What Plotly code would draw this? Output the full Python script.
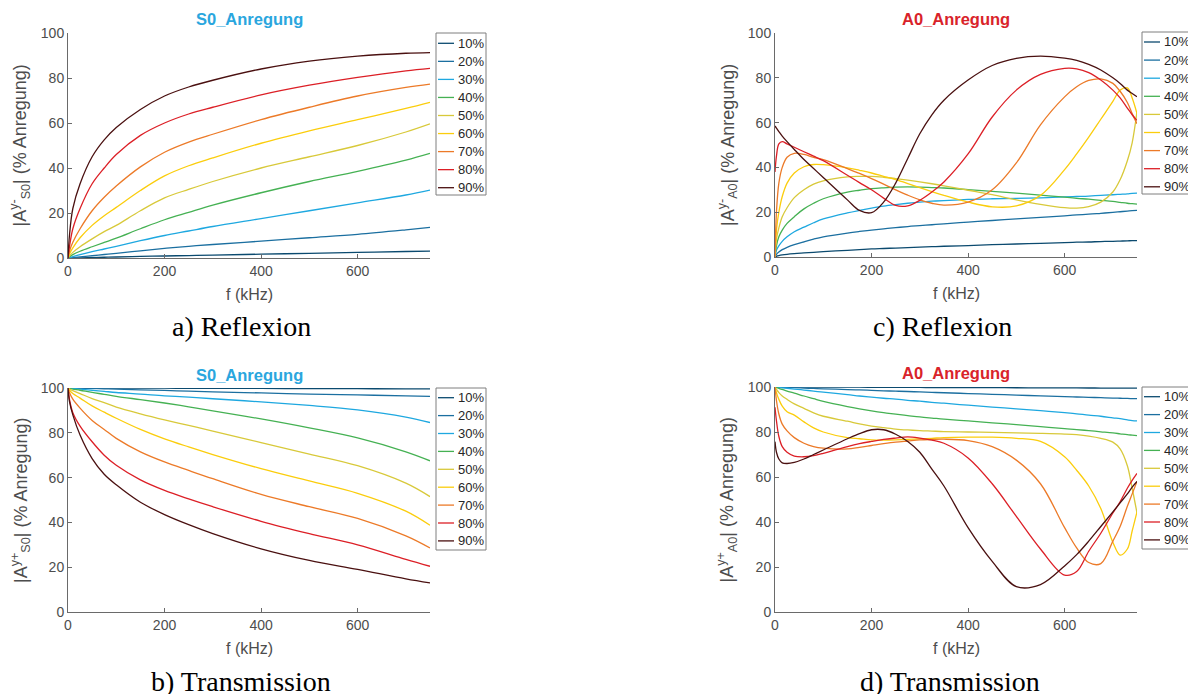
import plotly.graph_objects as go

LABELS = ["10%", "20%", "30%", "40%", "50%", "60%", "70%", "80%", "90%"]
COLORS = ["#0b4a6f", "#1b6fa0", "#1ea8e0", "#45b153", "#d8c93a",
          "#fbcd0c", "#ec7a28", "#dc1f26", "#4a1010"]

# ---- S0 excitation (panels a, b) ----
F_S0 = [0, 3, 10, 25, 50, 75, 100, 150, 200, 250, 300, 400, 500, 600, 700, 750]

S0_REFL_10 = [0, 0.01, 0.05, 0.1, 0.2, 0.33, 0.45, 0.7, 0.9, 1.1, 1.3, 1.7, 2.1, 2.5, 2.9, 3.1]
S0_REFL_20 = [0, 0.05, 0.2, 0.5, 1.0, 1.55, 2.1, 3.2, 4.3, 5.2, 6.0, 7.5, 9.0, 10.5, 12.5, 13.6]
S0_REFL_30 = [0, 0.2, 0.6, 1.5, 2.8, 4.0, 5.2, 7.7, 10, 12, 14, 17.5, 21, 24.5, 28, 30.2]
S0_REFL_40 = [0, 0.5, 1.5, 3.0, 5.0, 6.9, 8.8, 13, 17, 20.3, 23.5, 29, 34, 38.5, 43.5, 46.5]
S0_REFL_50 = [0, 1.0, 2.5, 5, 8.5, 11.7, 14.5, 21, 26.7, 30.5, 34, 40, 45, 50, 56, 59.6]
S0_REFL_60 = [0, 1.8, 4.5, 9, 14.5, 18.8, 22.5, 30, 36.5, 41, 44.5, 51, 56.5, 61.5, 66.5, 69.2]
S0_REFL_70 = [0, 3, 7, 13, 21, 27, 32, 40.5, 47, 51.5, 55, 61.5, 67, 72, 75.8, 77.3]
S0_REFL_80 = [0, 5, 13, 22, 33, 40, 46, 54.5, 60, 64, 67, 72.5, 76.8, 80.3, 83.2, 84.3]
S0_REFL_90 = [0, 10, 22, 33, 45, 52.5, 58, 66, 72, 76, 79, 84, 87.5, 89.7, 91, 91.3]

S0_TRANS_10 = [100, 100, 100, 100, 100, 99.99, 99.98, 99.95, 99.9, 99.88, 99.85, 99.8, 99.75, 99.7, 99.6, 99.6]
S0_TRANS_20 = [100, 100, 100, 99.9, 99.8, 99.65, 99.5, 99.2, 98.9, 98.6, 98.3, 97.8, 97.3, 96.9, 96.5, 96.3]
S0_TRANS_30 = [100, 100, 99.8, 99.5, 99, 98.5, 98, 97.3, 96.5, 95.9, 95.2, 93.8, 92.2, 90.2, 87, 84.6]
S0_TRANS_40 = [100, 99.8, 99.5, 99, 98, 97.2, 96.3, 94.8, 93.3, 91.6, 89.8, 86.2, 82.2, 77.7, 71.5, 67.5]
S0_TRANS_50 = [100, 99.5, 98.8, 97.5, 95.3, 93.5, 91.5, 88.5, 85.8, 83.3, 80.8, 75.6, 70.5, 65.3, 57.5, 51.5]
S0_TRANS_60 = [100, 99, 97.5, 95.5, 92, 89.2, 86.5, 81.5, 77.3, 73.7, 70.3, 64, 58.5, 53, 45, 38.7]
S0_TRANS_70 = [100, 98, 95, 91, 85.5, 81.5, 77.5, 71.5, 67, 63.2, 59.5, 52.5, 47, 41.8, 34, 28.6]
S0_TRANS_80 = [100, 95, 89, 83, 76, 70, 65.5, 59, 54.3, 50.5, 47, 40.5, 35, 30, 23.5, 20.4]
S0_TRANS_90 = [100, 94, 88, 79, 68.5, 61.5, 56.8, 49, 43.5, 39, 35, 28.2, 23, 19, 14.8, 13]

# ---- A0 excitation (panels c, d) ----
F_A0 = [0, 3, 8, 15, 25, 40, 60, 80, 100, 150, 175, 200, 225, 250, 275, 300, 325, 350, 400,
        450, 500, 550, 600, 625, 650, 675, 700, 715, 730, 740, 750]

A0_REFL_10 = [0, 0.3, 0.6, 0.9, 1.2, 1.5, 1.8, 2.1, 2.4, 3.0, 3.3, 3.6, 3.8, 4.0, 4.2, 4.4, 4.6, 4.8, 5.1,
              5.5, 5.8, 6.1, 6.4, 6.6, 6.7, 6.9, 7.0, 7.1, 7.2, 7.3, 7.3]
A0_REFL_20 = [0, 1.2, 2.2, 3.3, 4.3, 5.5, 6.8, 8, 9, 10.7, 11.4, 12, 12.6, 13.1, 13.6, 14, 14.4, 14.8, 15.6,
              16.3, 17, 17.7, 18.4, 18.8, 19.1, 19.5, 19.9, 20.2, 20.5, 20.7, 20.8]
A0_REFL_30 = [0, 3, 5, 7, 9, 11.3, 13.3, 15.3, 17, 19.7, 20.8, 21.8, 22.7, 23.4, 24, 24.5, 24.9, 25.2, 25.7,
              26, 26.2, 26.4, 26.8, 27, 27.2, 27.5, 27.8, 28, 28.2, 28.4, 28.5]
A0_REFL_40 = [0, 5, 9, 12, 15, 18, 21.5, 24, 26, 29, 29.8, 30.5, 30.9, 31.2, 31.3, 31.2, 31, 30.8, 30.1,
              29.3, 28.5, 27.6, 26.7, 26.2, 25.8, 25.3, 24.8, 24.4, 24, 23.8, 23.6]
A0_REFL_50 = [0, 8, 13, 18, 22, 26.5, 30, 32.5, 34, 35.8, 36, 36, 35.6, 35, 34.3, 33.5, 32.7, 31.8, 29.8,
              27.8, 25.5, 23.5, 22, 21.8, 22.5, 24.5, 29, 34.5, 43, 51, 65]
A0_REFL_60 = [0, 12, 20, 27, 33, 37.5, 40.3, 41.3, 41.2, 39.8, 38.7, 37.5, 36, 34.5, 32.8, 31, 29.2, 27.5, 24.5,
              22.4, 22.8, 27.5, 39, 46, 53.5, 61.5, 69.5, 74.5, 75.5, 71, 64]
A0_REFL_70 = [0, 20, 33, 40, 44.5, 46.3, 45.8, 44.5, 43.5, 39.5, 37.3, 35, 32.5, 30, 27.6, 25.5, 24, 23.2, 24.5,
              30, 42, 59, 71.5, 76, 78.8, 79.5, 77.5, 74, 69, 64, 59.5]
A0_REFL_80 = [38, 45, 50.5, 51.5, 50.5, 49, 47, 45, 43, 36.5, 33.2, 30, 26.3, 23, 22.8, 25.3, 29, 33.5, 46,
              62.5, 74.5, 81.5, 84.2, 84, 82.3, 79, 74.5, 71, 66.5, 63.5, 61]
A0_REFL_90 = [58.5, 57.5, 56, 54, 51.5, 48, 43.5, 39.5, 35.5, 25.5, 20.8, 19.8, 24.5, 33, 44, 55, 63.5, 70, 79,
              85.5, 88.7, 89.7, 88.8, 87.8, 86, 83.5, 80, 77.5, 74.5, 73, 71.5]

A0_TRANS_10 = [100, 100, 100, 100, 100, 100, 99.98, 99.97, 99.95, 99.9, 99.9, 99.88, 99.86, 99.85, 99.82, 99.8,
               99.78, 99.77, 99.74, 99.7, 99.67, 99.63, 99.6, 99.58, 99.56, 99.54, 99.52, 99.51, 99.5, 99.49, 99.48]
A0_TRANS_20 = [100, 99.98, 99.93, 99.87, 99.8, 99.68, 99.52, 99.36, 99.2, 98.85, 98.7, 98.5, 98.3, 98.15, 98,
               97.8, 97.6, 97.45, 97.1, 96.75, 96.4, 96.05, 95.7, 95.55, 95.4, 95.25, 95.1, 95, 94.9, 94.85, 94.8]
A0_TRANS_30 = [100, 99.9, 99.8, 99.65, 99.45, 99.1, 98.65, 98.2, 97.7, 96.6, 96, 95.5, 95, 94.6, 94.1,
               93.7, 93.2, 92.8, 91.9, 91.1, 90.3, 89.5, 88.6, 88.1, 87.5, 87, 86.3, 85.9, 85.4, 85.1, 84.9]
A0_TRANS_40 = [100, 99.8, 99.4, 98.9, 98.2, 97.3, 96, 94.8, 93.6, 91.3, 90.3, 89.4, 88.6, 87.9, 87.3,
               86.7, 86.2, 85.7, 84.9, 84.1, 83.3, 82.4, 81.5, 81.1, 80.6, 80.1, 79.6, 79.2, 78.8, 78.6, 78.4]
A0_TRANS_50 = [100, 99, 97.5, 96, 94.5, 92.5, 90.5, 88.5, 87, 84.8, 83.6, 82.6, 81.9, 81.3, 80.9,
               80.6, 80.4, 80.2, 80, 79.8, 79.6, 79.4, 79.1, 78.8, 78.2, 77.2, 75.5, 72.5, 65, 55, 44]
A0_TRANS_60 = [100, 97.5, 94.5, 91.5, 89, 87.5, 84.5, 81.8, 80, 77.5, 77, 76.5, 76.4, 76.5, 76.7,
               77, 77.2, 77.5, 77.7, 77.7, 77.2, 75.8, 69, 63, 56, 46, 31, 25.3, 28, 36, 44.5]
A0_TRANS_70 = [100, 94, 88, 83.5, 80.5, 77.5, 75, 73.5, 72.8, 72.5, 73.2, 74, 74.8, 75.5, 76,
               76.5, 76.7, 76.8, 76.2, 73.5, 67.5, 57, 37.5, 28.5, 22, 21.5, 31.5, 38, 47, 52.5, 58]
A0_TRANS_80 = [91, 85, 78, 73.5, 71, 69.3, 69, 69.5, 70.5, 73.5, 74.8, 75.8, 76.7, 77.3, 77.8,
               77.3, 76.4, 75, 68.5, 57, 42.5, 28, 16.4, 18, 27, 35, 44, 49, 55, 58.5, 61.6]
A0_TRANS_90 = [75.7, 71, 68, 66.3, 66, 66.5, 68, 70, 72, 77, 79.3, 81, 81, 79, 75.8,
               71, 63.5, 56, 37.5, 22.5, 11.3, 12.2, 20.5, 25.5, 31.5, 38, 44.5, 48.5, 52.5, 55.5, 58]

S0_REFL = [S0_REFL_10, S0_REFL_20, S0_REFL_30, S0_REFL_40, S0_REFL_50,
           S0_REFL_60, S0_REFL_70, S0_REFL_80, S0_REFL_90]
S0_TRANS = [S0_TRANS_10, S0_TRANS_20, S0_TRANS_30, S0_TRANS_40, S0_TRANS_50,
            S0_TRANS_60, S0_TRANS_70, S0_TRANS_80, S0_TRANS_90]
A0_REFL = [A0_REFL_10, A0_REFL_20, A0_REFL_30, A0_REFL_40, A0_REFL_50,
           A0_REFL_60, A0_REFL_70, A0_REFL_80, A0_REFL_90]
A0_TRANS = [A0_TRANS_10, A0_TRANS_20, A0_TRANS_30, A0_TRANS_40, A0_TRANS_50,
            A0_TRANS_60, A0_TRANS_70, A0_TRANS_80, A0_TRANS_90]

W, H = 1188, 694
FONT = "Liberation Sans, Arial, sans-serif"
AXC = "#6a6a6a"
TXC = "#4d4d4d"
S0_COL = "#2aa6de"
A0_COL = "#d9232a"


def px(x):
    return x / W


def py(y):
    return 1 - y / H


# suffix, freqs, series, plot x0, x1, y top, y bottom, legend box (left, top, bottom, first row y, row step),
# y label, title, title colour, title y
panels = [
    ("", F_S0, S0_REFL, 68, 430, 33, 258, (436, 33, 195, 43.3, 18.05),
     "|A<sup>y-</sup><sub>S0</sub>| (% Anregung)", "S0_Anregung", S0_COL, 19),
    ("2", F_A0, A0_REFL, 775, 1137, 33, 257, (1142, 32, 194, 42.0, 18.1),
     "|A<sup>y-</sup><sub>A0</sub>| (% Anregung)", "A0_Anregung", A0_COL, 19),
    ("3", F_S0, S0_TRANS, 68, 430, 388, 612, (436, 388, 550, 397.7, 17.9),
     "|A<sup>y+</sup><sub>S0</sub>| (% Anregung)", "S0_Anregung", S0_COL, 375),
    ("4", F_A0, A0_TRANS, 775, 1137, 387, 612, (1142, 387, 549, 396.7, 17.9),
     "|A<sup>y+</sup><sub>A0</sub>| (% Anregung)", "A0_Anregung", A0_COL, 373),
]

fig = go.Figure()
layout = dict(
    width=W, height=H, margin=dict(l=0, r=0, t=0, b=0, autoexpand=False),
    paper_bgcolor="white", plot_bgcolor="white",
    font=dict(family=FONT, color=TXC, size=14),
    showlegend=False,
)
annotations = []
shapes = []

for suf, F, series, x0, x1, yt, yb, lgd, ylab, title, tcol, ty in panels:
    xa = "x" + suf
    ya = "y" + suf
    for lab, col, vals in zip(LABELS, COLORS, series):
        fig.add_trace(go.Scatter(
            x=F, y=vals, mode="lines", name=lab,
            line=dict(color=col, width=1.3, shape="spline", smoothing=1.0),
            xaxis=xa, yaxis=ya,
        ))
    axis_common = dict(
        showline=True, linecolor=AXC, linewidth=1, ticks="inside", ticklen=4,
        tickcolor=AXC, showgrid=False, zeroline=False, mirror=False,
        tickfont=dict(family=FONT, size=14, color=TXC),
    )
    layout["xaxis" + suf] = dict(
        domain=[px(x0), px(x1)], range=[0, 750], tickvals=[0, 200, 400, 600],
        anchor=ya, **axis_common)
    layout["yaxis" + suf] = dict(
        domain=[py(yb), py(yt)], range=[0, 100], tickvals=[0, 20, 40, 60, 80, 100],
        anchor=xa, **axis_common)

    # legend box drawn by hand (MATLAB-style compact legend)
    lx, ltop, lbot, r0, rstep = lgd
    shapes.append(dict(type="rect", xref="paper", yref="paper",
                       x0=px(lx), x1=px(lx + 50), y0=py(lbot), y1=py(ltop),
                       line=dict(color="#7f7f7f", width=1), fillcolor="white", layer="above"))
    for i, (lab, col) in enumerate(zip(LABELS, COLORS)):
        ry = r0 + i * rstep
        shapes.append(dict(type="line", xref="paper", yref="paper",
                           x0=px(lx + 2), x1=px(lx + 18), y0=py(ry), y1=py(ry),
                           line=dict(color=col, width=1.3), layer="above"))
        annotations.append(dict(text=lab, x=px(lx + 19.5), y=py(ry), xref="paper", yref="paper",
                                xanchor="left", yanchor="middle", showarrow=False,
                                font=dict(family=FONT, size=13, color="#262626")))

    cx = (x0 + x1) / 2
    annotations.append(dict(text="<b>" + title + "</b>", x=px(cx), y=py(ty),
                            xref="paper", yref="paper", showarrow=False,
                            xanchor="center", yanchor="middle",
                            font=dict(family=FONT, size=16.5, color=tcol)))
    annotations.append(dict(text=ylab, x=px(x0 - 48), y=py((yt + yb) / 2),
                            xref="paper", yref="paper", showarrow=False,
                            xanchor="center", yanchor="middle", textangle=-90,
                            font=dict(family=FONT, size=18, color=TXC)))
    annotations.append(dict(text="f (kHz)", x=px(cx), y=py(yb + 36),
                            xref="paper", yref="paper", showarrow=False,
                            xanchor="center", yanchor="middle",
                            font=dict(family=FONT, size=16, color=TXC)))

captions = [("a) Reflexion", 241, 327), ("c) Reflexion", 942, 327),
            ("b) Transmission", 241, 681), ("d) Transmission", 950, 681)]
for txt, cx, cy in captions:
    annotations.append(dict(text=txt, x=px(cx), y=py(cy), xref="paper", yref="paper",
                            showarrow=False, xanchor="center", yanchor="middle",
                            font=dict(family="Liberation Serif, serif", size=28, color="#000000")))

layout["annotations"] = annotations
layout["shapes"] = shapes
fig.update_layout(**layout)
fig.write_html("out.html",
               config={"displayModeBar": False},
               post_script="document.body.style.margin='0px';document.body.style.overflow='hidden';")
